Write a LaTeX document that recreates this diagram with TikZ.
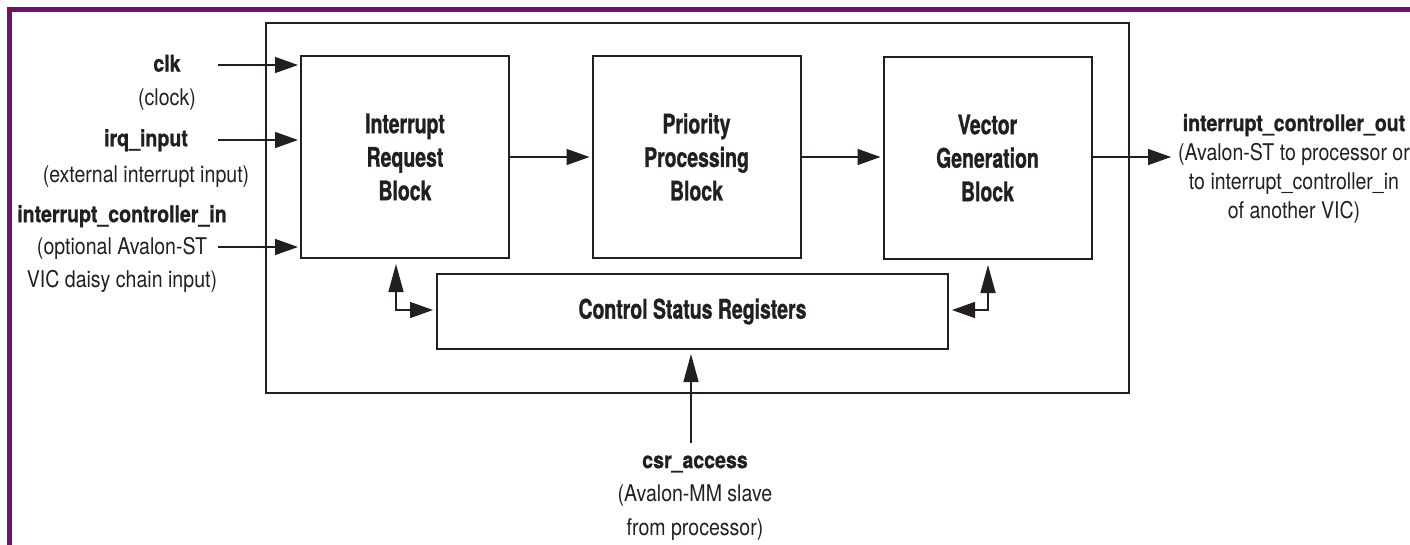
\documentclass[tikz,border=0pt]{standalone}
\usepackage{fontspec}
\setmainfont{TeX Gyre Heros}[FakeStretch=0.85, BoldFeatures={FakeBold=1}]
\newfontfamily\boxfamily{TeX Gyre Heros}[FakeStretch=0.72, BoldFeatures={FakeBold=1}]
\usetikzlibrary{arrows.meta}
\definecolor{ink}{RGB}{35,31,32}
\definecolor{framecol}{RGB}{112,16,112}
\newcommand\lblsize[1]{\fontsize{23}{#1}\selectfont}
\tikzset{
  blk/.style={draw=ink, line width=2pt, align=center, text=ink, inner sep=0pt,
    font=\boxfamily\bfseries\fontsize{27}{33.5}\selectfont},
  lbl/.style={align=center, inner sep=0pt, text=ink},
  conn/.style={draw=ink, line width=1.4pt, line join=miter},
  harr/.style={conn, -{Triangle[length=23pt,width=16pt]}},
  varr/.style={conn, -{Triangle[length=28pt,width=15pt]}},
}
\begin{document}
\begin{tikzpicture}[x=1pt,y=-1pt]
\fill[white] (0,0) rectangle (1410,544);
\useasboundingbox (0,0) rectangle (1410,544);
% purple frame
\draw[framecol, line width=5pt, line join=miter] (9.5,560) -- (9.5,9.5) -- (1420,9.5);
% outer box
\node[draw=ink, line width=2.2pt, minimum width=863pt, minimum height=370pt, inner sep=0pt] (outer) at (697.5,208) {};
% blocks
\node[blk, minimum width=208pt, minimum height=202pt] (irb) at (405,157) {Interrupt\\Request\\Block};
\node[blk, minimum width=208pt, minimum height=202pt] (ppb) at (696.5,157) {Priority\\Processing\\Block};
\node[blk, minimum width=208pt, minimum height=202pt] (vgb) at (987.5,158) {Vector\\Generation\\Block};
\node[blk, minimum width=511pt, minimum height=75pt] (csr) at (692.5,311.5) {Control Status Registers};
% labels
\node[lbl, font=\lblsize{33.5}] (clklbl) at (167,82.4) {\textbf{clk}\\(clock)};
\node[lbl, font=\lblsize{36}] (irqlbl) at (146,158.2) {\textbf{irq\_input}\\(external interrupt input)};
\node[lbl, font=\lblsize{32.5}] (iclbl) at (122,248.6) {\textbf{interrupt\_controller\_in}\\(optional Avalon-ST\\VIC daisy chain input)};
\node[lbl, font=\lblsize{29}] (outlbl) at (1294,168.5) {\textbf{interrupt\_controller\_out}\\(Avalon-ST to processor or\\to interrupt\_controller\_in\\of another VIC)};
\node[lbl, font=\lblsize{33.5}] (csrlbl) at (695,497.8) {\textbf{csr\_access}\\(Avalon-MM slave\\from processor)};
% coordinates
\coordinate (clkin) at (218,65);
\coordinate (irqin) at (218,140);
\coordinate (icin) at (218,247);
\coordinate (vout) at (1171,157);
\coordinate (csrin) at (691,443);
\coordinate (lx) at (396,310);
\coordinate (rx) at (988,310);
% connectors
\draw[harr, shorten >=2pt] (clkin) -- (clkin -| irb.west);
\draw[harr, shorten >=2pt] (irqin) -- (irqin -| irb.west);
\draw[harr, shorten >=2pt] (icin) -- (icin -| irb.west);
\draw[harr, shorten >=2pt] (irb.east) -- (ppb.west |- irb.east);
\draw[harr, shorten >=2pt] (ppb.east) -- (vgb.west |- ppb.east);
\draw[harr] (vgb.east |- vout) -- (vout);
\draw[conn, {Triangle[length=28pt,width=15pt]}-{Triangle[length=23pt,width=16pt]}, shorten <=5pt, shorten >=3pt]
  (irb.south -| lx) -- (lx) -- (lx -| csr.west);
\draw[conn, {Triangle[length=28pt,width=15pt]}-{Triangle[length=23pt,width=16pt]}, shorten <=5pt, shorten >=3pt]
  (vgb.south -| rx) -- (rx) -- (rx -| csr.east);
\draw[varr, shorten >=4pt] (csrin) -- (csrin |- csr.south);
\end{tikzpicture}
\end{document}
